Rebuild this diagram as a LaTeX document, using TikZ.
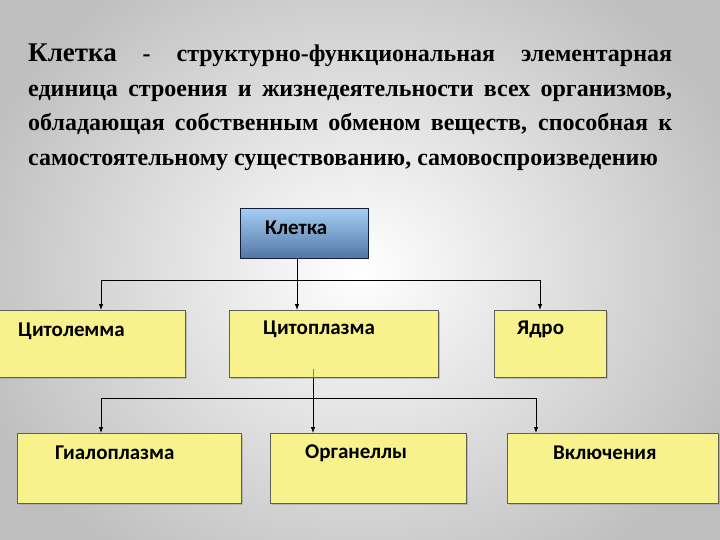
\documentclass[tikz,border=0pt]{standalone}
\usepackage{fontspec}
\setmainfont{Liberation Serif}
\newfontfamily\boxfont{Carlito}
\usetikzlibrary{arrows.meta,positioning,shadows}

\definecolor{boxyellow}{RGB}{247,242,140}
\definecolor{boxedge}{RGB}{95,95,85}
\definecolor{celltop}{RGB}{165,205,242}
\definecolor{cellbot}{RGB}{82,118,165}
\definecolor{celledge}{RGB}{20,30,60}

\begin{document}
\begin{tikzpicture}[x=1pt,y=-1pt,
  box/.style={rectangle, draw=boxedge, fill=boxyellow, line width=0.8pt,
              anchor=north west, inner sep=0pt,
              drop shadow={shadow xshift=2pt, shadow yshift=-2pt, fill=gray!80}},
  cellbox/.style={rectangle, draw=celledge, line width=1pt, anchor=north west,
                  inner sep=0pt, top color=celltop, bottom color=cellbot},
  box_label/.style={anchor=west, inner sep=0pt, font=\boxfont\bfseries\fontsize{21}{23}\selectfont},
  para/.style={anchor=base west, inner sep=0pt, text width=644pt, align=justify,
               font=\bfseries\fontsize{24}{34.5}\selectfont},
  line/.style={draw=black, line width=0.8pt},
  arrow/.style={line, -{Latex[length=6pt,width=4.5pt]}}
]

% Page and background
\useasboundingbox (0,0) rectangle (720,540);
\shade[inner color=white, outer color=gray!50] (-40,-80) rectangle (760,620);

% Definition text
\node[para] (defn) at (28,62) {{\fontsize{27}{34.5}\selectfont Клетка} - структурно-функциональная элементарная\linebreak
единица строения и жизнедеятельности всех организмов,\linebreak
обладающая собственным обменом веществ, способная к\linebreak
самостоятельному существованию, самовоспроизведению};

% Top box
\node[cellbox, minimum width=128pt, minimum height=50pt] (kletka) at (240,208) {};
\node[box_label] (kletkaT) at ([shift={(25,20)}]kletka.north west) {Клетка};

% Second row
\node[box, minimum width=195pt, minimum height=67pt] (citolemma) at (-10,310) {};
\node[box, minimum width=209pt, minimum height=67pt] (citoplasma) at (229,310) {};
\node[box, minimum width=112pt, minimum height=67pt] (yadro) at (494,310) {};
\node[box_label] (citolemmaT) at ([shift={(28,21)}]citolemma.north west) {Цитолемма};
\node[box_label] (citoplasmaT) at ([shift={(34,19)}]citoplasma.north west) {Цитоплазма};
\node[box_label] (yadroT) at ([shift={(23,19)}]yadro.north west) {Ядро};

% Third row
\node[box, minimum width=224pt, minimum height=70pt] (gialo) at (17,433) {};
\node[box, minimum width=196pt, minimum height=70pt] (organelly) at (270,433) {};
\node[box, minimum width=211pt, minimum height=70pt] (vklyuch) at (507,433) {};
\node[box_label] (gialoT) at ([shift={(38,20)}]gialo.north west) {Гиалоплазма};
\node[box_label] (organellyT) at ([shift={(35,20)}]organelly.north west) {Органеллы};
\node[box_label] (vklyuchT) at ([shift={(46,20)}]vklyuch.north west) {Включения};

% Bus under the top box
\coordinate (busAL) at (101,280);
\coordinate (busAM) at (297,280);
\coordinate (busAR) at (540,280);
\draw[line] (busAM |- kletka.south) -- (busAM);
\draw[line] (busAL) -- (busAR);
\draw[arrow] (busAL) -- (busAL |- citolemma.north);
\draw[arrow] (busAM) -- (busAM |- citoplasma.north);
\draw[arrow] (busAR) -- (busAR |- yadro.north);

% Bus under the cytoplasm box
\coordinate (busBL) at (101,398);
\coordinate (busBM) at (313,398);
\coordinate (busBR) at (536,398);
\draw[line, draw=gray] ([yshift=9pt]busBM |- citoplasma.south) -- (busBM |- citoplasma.south);
\draw[line] (busBM |- citoplasma.south) -- (busBM);
\draw[line] (busBL) -- (busBR);
\draw[arrow] (busBL) -- (busBL |- gialo.north);
\draw[arrow] (busBM) -- (busBM |- organelly.north);
\draw[arrow] (busBR) -- (busBR |- vklyuch.north);

\end{tikzpicture}
\end{document}
